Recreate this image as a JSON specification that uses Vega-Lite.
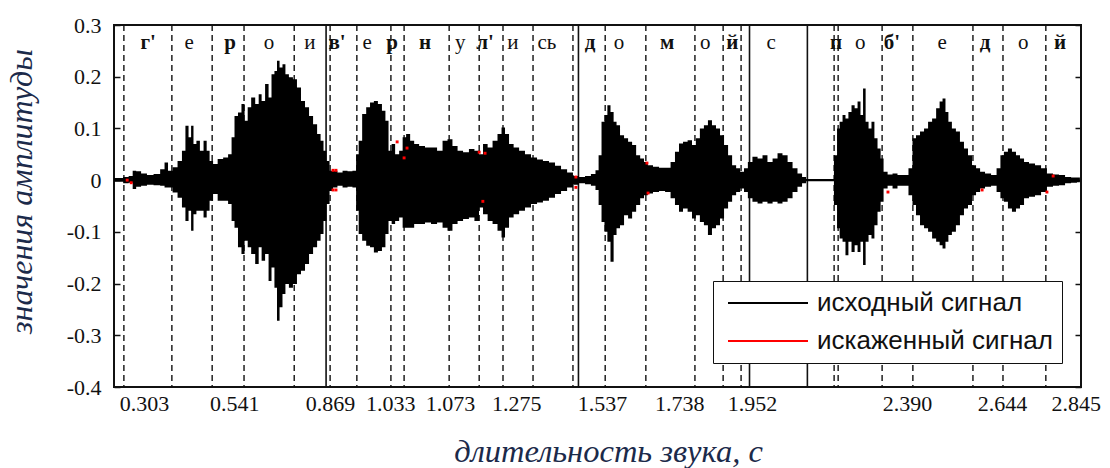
{
  "$schema": "https://vega.github.io/schema/vega-lite/v6.json",
  "autosize": {"type": "none"},
  "padding": {"left": 114, "top": 25, "right": 29, "bottom": 81},
  "width": 967,
  "height": 362,
  "background": "white",
  "config": {
    "view": {"stroke": "#111", "strokeWidth": 2},
    "axis": {"grid": false}
  },
  "datasets": {
    "wave": [
      {"t":0.221,"hi":0.004,"lo":-0.003},{"t":0.238,"hi":0.004,"lo":-0.003},{"t":0.254,"hi":0.006,"lo":-0.006},{"t":0.268,"hi":0.008,"lo":-0.005},{"t":0.276,"hi":0.018,"lo":-0.017},{"t":0.287,"hi":0.017,"lo":-0.013},{"t":0.303,"hi":0.013,"lo":-0.011},{"t":0.319,"hi":0.010,"lo":-0.009},{"t":0.339,"hi":0.012,"lo":-0.010},{"t":0.355,"hi":0.021,"lo":-0.011},{"t":0.363,"hi":0.034,"lo":-0.014},{"t":0.374,"hi":0.018,"lo":-0.014},{"t":0.388,"hi":0.025,"lo":-0.024},{"t":0.401,"hi":0.037,"lo":-0.034},{"t":0.412,"hi":0.057,"lo":-0.053},{"t":0.420,"hi":0.105,"lo":-0.079},{"t":0.429,"hi":0.083,"lo":-0.059},{"t":0.434,"hi":0.105,"lo":-0.098},{"t":0.442,"hi":0.070,"lo":-0.066},{"t":0.450,"hi":0.076,"lo":-0.059},{"t":0.461,"hi":0.057,"lo":-0.059},{"t":0.470,"hi":0.076,"lo":-0.072},{"t":0.478,"hi":0.057,"lo":-0.059},{"t":0.486,"hi":0.037,"lo":-0.040},{"t":0.497,"hi":0.031,"lo":-0.027},{"t":0.511,"hi":0.041,"lo":-0.040},{"t":0.527,"hi":0.044,"lo":-0.040},{"t":0.538,"hi":0.050,"lo":-0.046},{"t":0.546,"hi":0.083,"lo":-0.079},{"t":0.554,"hi":0.124,"lo":-0.092},{"t":0.565,"hi":0.131,"lo":-0.130},{"t":0.573,"hi":0.147,"lo":-0.143},{"t":0.582,"hi":0.115,"lo":-0.117},{"t":0.590,"hi":0.141,"lo":-0.130},{"t":0.601,"hi":0.160,"lo":-0.143},{"t":0.612,"hi":0.147,"lo":-0.162},{"t":0.620,"hi":0.166,"lo":-0.130},{"t":0.628,"hi":0.153,"lo":-0.156},{"t":0.639,"hi":0.186,"lo":-0.143},{"t":0.647,"hi":0.160,"lo":-0.195},{"t":0.655,"hi":0.205,"lo":-0.169},{"t":0.663,"hi":0.211,"lo":-0.208},{"t":0.669,"hi":0.231,"lo":-0.272},{"t":0.677,"hi":0.218,"lo":-0.246},{"t":0.685,"hi":0.224,"lo":-0.220},{"t":0.693,"hi":0.205,"lo":-0.201},{"t":0.704,"hi":0.199,"lo":-0.208},{"t":0.715,"hi":0.195,"lo":-0.201},{"t":0.726,"hi":0.179,"lo":-0.182},{"t":0.737,"hi":0.153,"lo":-0.175},{"t":0.748,"hi":0.141,"lo":-0.162},{"t":0.759,"hi":0.124,"lo":-0.143},{"t":0.770,"hi":0.108,"lo":-0.130},{"t":0.781,"hi":0.089,"lo":-0.117},{"t":0.789,"hi":0.076,"lo":-0.104},{"t":0.797,"hi":0.057,"lo":-0.079},{"t":0.805,"hi":0.037,"lo":-0.046},{"t":0.814,"hi":0.018,"lo":-0.021},{"t":0.824,"hi":0.018,"lo":-0.014},{"t":0.838,"hi":0.015,"lo":-0.011},{"t":0.852,"hi":0.018,"lo":-0.014},{"t":0.865,"hi":0.017,"lo":-0.013},{"t":0.879,"hi":0.018,"lo":-0.014},{"t":0.885,"hi":0.050,"lo":-0.059},{"t":0.893,"hi":0.076,"lo":-0.104},{"t":0.904,"hi":0.128,"lo":-0.117},{"t":0.915,"hi":0.141,"lo":-0.127},{"t":0.925,"hi":0.150,"lo":-0.130},{"t":0.936,"hi":0.153,"lo":-0.140},{"t":0.947,"hi":0.147,"lo":-0.137},{"t":0.958,"hi":0.134,"lo":-0.130},{"t":0.966,"hi":0.115,"lo":-0.104},{"t":0.975,"hi":0.057,"lo":-0.079},{"t":0.983,"hi":0.070,"lo":-0.085},{"t":0.994,"hi":0.050,"lo":-0.079},{"t":1.005,"hi":0.057,"lo":-0.072},{"t":1.013,"hi":0.083,"lo":-0.092},{"t":1.024,"hi":0.089,"lo":-0.092},{"t":1.035,"hi":0.076,"lo":-0.092},{"t":1.046,"hi":0.070,"lo":-0.085},{"t":1.062,"hi":0.066,"lo":-0.085},{"t":1.078,"hi":0.063,"lo":-0.082},{"t":1.095,"hi":0.063,"lo":-0.085},{"t":1.111,"hi":0.057,"lo":-0.082},{"t":1.125,"hi":0.076,"lo":-0.092},{"t":1.138,"hi":0.079,"lo":-0.098},{"t":1.152,"hi":0.066,"lo":-0.085},{"t":1.166,"hi":0.057,"lo":-0.079},{"t":1.182,"hi":0.054,"lo":-0.075},{"t":1.198,"hi":0.060,"lo":-0.072},{"t":1.212,"hi":0.057,"lo":-0.079},{"t":1.223,"hi":0.050,"lo":-0.053},{"t":1.234,"hi":0.070,"lo":-0.066},{"t":1.248,"hi":0.063,"lo":-0.079},{"t":1.261,"hi":0.076,"lo":-0.085},{"t":1.275,"hi":0.089,"lo":-0.098},{"t":1.283,"hi":0.102,"lo":-0.111},{"t":1.294,"hi":0.089,"lo":-0.092},{"t":1.305,"hi":0.070,"lo":-0.072},{"t":1.319,"hi":0.063,"lo":-0.066},{"t":1.335,"hi":0.057,"lo":-0.059},{"t":1.351,"hi":0.050,"lo":-0.053},{"t":1.368,"hi":0.044,"lo":-0.046},{"t":1.384,"hi":0.040,"lo":-0.043},{"t":1.400,"hi":0.037,"lo":-0.040},{"t":1.417,"hi":0.034,"lo":-0.034},{"t":1.433,"hi":0.028,"lo":-0.027},{"t":1.450,"hi":0.021,"lo":-0.021},{"t":1.466,"hi":0.015,"lo":-0.014},{"t":1.482,"hi":0.008,"lo":-0.009},{"t":1.499,"hi":0.006,"lo":-0.006},{"t":1.515,"hi":0.008,"lo":-0.008},{"t":1.531,"hi":0.012,"lo":-0.011},{"t":1.540,"hi":0.019,"lo":-0.019},{"t":1.548,"hi":0.048,"lo":-0.048},{"t":1.556,"hi":0.113,"lo":-0.081},{"t":1.564,"hi":0.126,"lo":-0.100},{"t":1.572,"hi":0.145,"lo":-0.119},{"t":1.581,"hi":0.132,"lo":-0.158},{"t":1.589,"hi":0.113,"lo":-0.106},{"t":1.597,"hi":0.106,"lo":-0.093},{"t":1.608,"hi":0.087,"lo":-0.087},{"t":1.619,"hi":0.081,"lo":-0.068},{"t":1.630,"hi":0.074,"lo":-0.074},{"t":1.641,"hi":0.068,"lo":-0.061},{"t":1.652,"hi":0.048,"lo":-0.048},{"t":1.663,"hi":0.042,"lo":-0.035},{"t":1.673,"hi":0.035,"lo":-0.029},{"t":1.684,"hi":0.029,"lo":-0.026},{"t":1.701,"hi":0.026,"lo":-0.023},{"t":1.717,"hi":0.024,"lo":-0.021},{"t":1.734,"hi":0.024,"lo":-0.023},{"t":1.747,"hi":0.035,"lo":-0.035},{"t":1.758,"hi":0.055,"lo":-0.048},{"t":1.769,"hi":0.071,"lo":-0.061},{"t":1.780,"hi":0.074,"lo":-0.055},{"t":1.794,"hi":0.077,"lo":-0.061},{"t":1.804,"hi":0.068,"lo":-0.074},{"t":1.815,"hi":0.081,"lo":-0.068},{"t":1.826,"hi":0.100,"lo":-0.081},{"t":1.837,"hi":0.106,"lo":-0.087},{"t":1.848,"hi":0.116,"lo":-0.106},{"t":1.859,"hi":0.106,"lo":-0.093},{"t":1.870,"hi":0.100,"lo":-0.087},{"t":1.881,"hi":0.087,"lo":-0.074},{"t":1.892,"hi":0.068,"lo":-0.055},{"t":1.903,"hi":0.048,"lo":-0.042},{"t":1.914,"hi":0.029,"lo":-0.029},{"t":1.925,"hi":0.023,"lo":-0.023},{"t":1.936,"hi":0.016,"lo":-0.016},{"t":1.946,"hi":0.023,"lo":-0.023},{"t":1.957,"hi":0.035,"lo":-0.035},{"t":1.971,"hi":0.045,"lo":-0.042},{"t":1.985,"hi":0.042,"lo":-0.045},{"t":1.998,"hi":0.048,"lo":-0.042},{"t":2.012,"hi":0.035,"lo":-0.045},{"t":2.026,"hi":0.042,"lo":-0.042},{"t":2.039,"hi":0.052,"lo":-0.045},{"t":2.053,"hi":0.048,"lo":-0.042},{"t":2.067,"hi":0.035,"lo":-0.035},{"t":2.080,"hi":0.023,"lo":-0.023},{"t":2.094,"hi":0.013,"lo":-0.013},{"t":2.105,"hi":0.006,"lo":-0.006},{"t":2.116,"hi":0.002,"lo":-0.002},{"t":2.148,"hi":0.002,"lo":-0.002},{"t":2.181,"hi":0.002,"lo":-0.002},{"t":2.192,"hi":0.048,"lo":-0.048},{"t":2.198,"hi":0.100,"lo":-0.093},{"t":2.206,"hi":0.113,"lo":-0.113},{"t":2.214,"hi":0.126,"lo":-0.119},{"t":2.222,"hi":0.119,"lo":-0.145},{"t":2.230,"hi":0.132,"lo":-0.119},{"t":2.239,"hi":0.145,"lo":-0.139},{"t":2.247,"hi":0.139,"lo":-0.126},{"t":2.255,"hi":0.152,"lo":-0.139},{"t":2.263,"hi":0.126,"lo":-0.119},{"t":2.269,"hi":0.177,"lo":-0.164},{"t":2.277,"hi":0.113,"lo":-0.119},{"t":2.285,"hi":0.100,"lo":-0.106},{"t":2.293,"hi":0.113,"lo":-0.113},{"t":2.301,"hi":0.081,"lo":-0.087},{"t":2.310,"hi":0.061,"lo":-0.061},{"t":2.318,"hi":0.042,"lo":-0.042},{"t":2.326,"hi":0.016,"lo":-0.016},{"t":2.340,"hi":0.011,"lo":-0.011},{"t":2.353,"hi":0.013,"lo":-0.016},{"t":2.367,"hi":0.010,"lo":-0.011},{"t":2.383,"hi":0.010,"lo":-0.011},{"t":2.397,"hi":0.023,"lo":-0.029},{"t":2.405,"hi":0.081,"lo":-0.048},{"t":2.416,"hi":0.087,"lo":-0.068},{"t":2.427,"hi":0.094,"lo":-0.087},{"t":2.438,"hi":0.100,"lo":-0.093},{"t":2.449,"hi":0.113,"lo":-0.100},{"t":2.460,"hi":0.119,"lo":-0.113},{"t":2.471,"hi":0.139,"lo":-0.119},{"t":2.479,"hi":0.152,"lo":-0.126},{"t":2.487,"hi":0.158,"lo":-0.132},{"t":2.495,"hi":0.132,"lo":-0.119},{"t":2.503,"hi":0.113,"lo":-0.106},{"t":2.514,"hi":0.100,"lo":-0.100},{"t":2.525,"hi":0.094,"lo":-0.087},{"t":2.536,"hi":0.074,"lo":-0.068},{"t":2.547,"hi":0.061,"lo":-0.055},{"t":2.558,"hi":0.048,"lo":-0.048},{"t":2.569,"hi":0.029,"lo":-0.029},{"t":2.580,"hi":0.023,"lo":-0.023},{"t":2.591,"hi":0.016,"lo":-0.016},{"t":2.607,"hi":0.013,"lo":-0.013},{"t":2.624,"hi":0.010,"lo":-0.011},{"t":2.637,"hi":0.023,"lo":-0.023},{"t":2.645,"hi":0.048,"lo":-0.035},{"t":2.656,"hi":0.055,"lo":-0.042},{"t":2.667,"hi":0.061,"lo":-0.055},{"t":2.678,"hi":0.055,"lo":-0.061},{"t":2.689,"hi":0.048,"lo":-0.055},{"t":2.700,"hi":0.042,"lo":-0.048},{"t":2.711,"hi":0.035,"lo":-0.035},{"t":2.727,"hi":0.032,"lo":-0.032},{"t":2.744,"hi":0.029,"lo":-0.029},{"t":2.760,"hi":0.023,"lo":-0.023},{"t":2.776,"hi":0.013,"lo":-0.013},{"t":2.793,"hi":0.011,"lo":-0.011},{"t":2.809,"hi":0.010,"lo":-0.010},{"t":2.826,"hi":0.006,"lo":-0.006},{"t":2.842,"hi":0.005,"lo":-0.005},{"t":2.858,"hi":0.005,"lo":-0.004}
    ],
    "bounds": [
      {"t":0.248,"kind":"phone"},{"t":0.379,"kind":"phone"},{"t":0.489,"kind":"phone"},{"t":0.576,"kind":"phone"},{"t":0.713,"kind":"phone"},{"t":0.811,"kind":"phone"},{"t":0.884,"kind":"phone"},{"t":0.977,"kind":"phone"},{"t":1.013,"kind":"phone"},{"t":1.136,"kind":"phone"},{"t":1.218,"kind":"phone"},{"t":1.283,"kind":"phone"},{"t":1.365,"kind":"phone"},{"t":1.474,"kind":"phone"},{"t":1.562,"kind":"phone"},{"t":1.673,"kind":"phone"},{"t":1.807,"kind":"phone"},{"t":1.884,"kind":"phone"},{"t":1.933,"kind":"phone"},{"t":2.187,"kind":"phone"},{"t":2.198,"kind":"phone"},{"t":2.318,"kind":"phone"},{"t":2.402,"kind":"phone"},{"t":2.566,"kind":"phone"},{"t":2.648,"kind":"phone"},{"t":2.765,"kind":"phone"},
      {"t":0.800,"kind":"word"},{"t":1.489,"kind":"word"},{"t":1.956,"kind":"word"},{"t":2.114,"kind":"word"}
    ],
    "letters": [
      {"t":0.314,"s":"г'","b":1},{"t":0.426,"s":"е","b":0},{"t":0.538,"s":"р","b":1},{"t":0.644,"s":"о","b":0},{"t":0.756,"s":"и","b":0},
      {"t":0.830,"s":"в'","b":1},{"t":0.912,"s":"е","b":0},{"t":0.980,"s":"р","b":1},{"t":1.070,"s":"н","b":1},{"t":1.166,"s":"у","b":0},{"t":1.234,"s":"л'","b":1},{"t":1.310,"s":"и","b":0},{"t":1.403,"s":"сь","b":0},
      {"t":1.521,"s":"д","b":1},{"t":1.600,"s":"о","b":0},{"t":1.731,"s":"м","b":1},{"t":1.835,"s":"о","b":0},{"t":1.909,"s":"й","b":1},
      {"t":2.015,"s":"с","b":0},
      {"t":2.192,"s":"п","b":1},{"t":2.258,"s":"о","b":0},{"t":2.345,"s":"б'","b":1},{"t":2.482,"s":"е","b":0},{"t":2.599,"s":"д","b":1},{"t":2.703,"s":"о","b":0},{"t":2.804,"s":"й","b":1}
    ],
    "red": [
      {"t":0.257,"v":0.0},{"t":0.268,"v":-0.005},{"t":0.819,"v":0.019},{"t":0.827,"v":0.019},{"t":0.819,"v":-0.019},{"t":0.827,"v":-0.019},
      {"t":0.994,"v":0.074},{"t":1.021,"v":0.062},{"t":1.013,"v":0.043},{"t":1.218,"v":0.054},{"t":1.234,"v":0.052},{"t":1.228,"v":-0.041},
      {"t":1.482,"v":0.006},{"t":1.482,"v":-0.014},{"t":1.676,"v":0.033},{"t":1.679,"v":-0.025},{"t":2.334,"v":-0.023},{"t":2.591,"v":-0.019},{"t":2.785,"v":0.008},{"t":2.768,"v":-0.023}
    ]
  },
  "encoding": {
    "x": {
      "field": "t", "type": "quantitative",
      "scale": {"domain": [0.221, 2.861], "nice": false, "zero": false},
      "axis": {
        "values": [0.303,0.549,0.811,0.975,1.138,1.319,1.553,1.764,1.963,2.386,2.645,2.847],
        "labelExpr": "datum.value == 0.549 ? '0.541' : datum.value == 0.811 ? '0.869' : datum.value == 0.975 ? '1.033' : datum.value == 1.138 ? '1.073' : datum.value == 1.319 ? '1.275' : datum.value == 1.553 ? '1.537' : datum.value == 1.764 ? '1.738' : datum.value == 1.963 ? '1.952' : datum.value == 2.386 ? '2.390' : datum.value == 2.645 ? '2.644' : datum.value == 2.847 ? '2.845' : '0.303'",
        "ticks": false, "domain": false, "grid": false,
        "labelFont": "Liberation Serif", "labelFontSize": 22, "labelColor": "#111",
        "labelPadding": 6, "labelFlush": false, "labelOverlap": false,
        "title": "длительность звука, с",
        "titleFont": "Liberation Serif", "titleFontStyle": "italic", "titleFontWeight": "normal",
        "titleFontSize": 32.5, "titleColor": "#1b2a4a",
        "titleX": 494, "titleY": 74, "titleBaseline": "alphabetic"
      }
    }
  },
  "layer": [
    {
      "data": {"name": "bounds"},
      "transform": [{"filter": "datum.kind == 'phone'"}],
      "mark": {"type": "rule", "color": "#111", "strokeWidth": 1.4, "strokeDash": [6, 4]},
      "encoding": {}
    },
    {
      "data": {"name": "bounds"},
      "transform": [{"filter": "datum.kind == 'word'"}],
      "mark": {"type": "rule", "color": "#111", "strokeWidth": 1.6},
      "encoding": {}
    },
    {
      "data": {"name": "wave"},
      "mark": {"type": "area", "color": "#000000", "opacity": 1, "interpolate": "step"},
      "encoding": {
        "y": {
          "field": "hi", "type": "quantitative",
          "scale": {"domain": [-0.4, 0.3], "nice": false, "zero": false},
          "axis": {
            "orient": "left",
            "values": [-0.4,-0.3,-0.2,-0.1,0,0.1,0.2,0.3],
            "labelExpr": "datum.value == 0 ? '0' : (datum.value < 0 ? '-' + format(-datum.value, '.1f') : format(datum.value, '.1f'))",
            "domain": false, "grid": false,
            "tickSize": -6, "tickColor": "#111", "tickWidth": 1.5,
            "labelFont": "Liberation Serif", "labelFontSize": 22, "labelColor": "#111",
            "labelPadding": 19, "labelBaseline": "middle",
            "title": "значения амплитуды",
            "titleFont": "Liberation Serif", "titleFontStyle": "italic", "titleFontWeight": "normal",
            "titleFontSize": 32, "titleColor": "#1b2a4a",
            "titleAngle": 270, "titleX": -83, "titleY": 166, "titleBaseline": "alphabetic"
          }
        },
        "y2": {"field": "lo"}
      }
    },
    {
      "data": {"name": "red"},
      "mark": {"type": "point", "shape": "square", "filled": false, "size": 2, "strokeWidth": 1.5, "opacity": 1},
      "encoding": {
        "y": {
          "field": "v", "type": "quantitative",
          "scale": {"domain": [-0.4, 0.3], "nice": false, "zero": false},
          "axis": {
            "orient": "right", "values": [-0.4,-0.3,-0.2,-0.1,0,0.1,0.2,0.3],
            "labels": false, "domain": false, "grid": false, "title": null,
            "tickSize": -6, "tickColor": "#111", "tickWidth": 1.5
          }
        },
        "color": {
          "datum": "искаженный сигнал", "type": "nominal",
          "scale": {"domain": ["исходный сигнал", "искаженный сигнал"], "range": ["#000000", "#ff0000"]},
          "legend": {
            "orient": "none", "legendX": 599, "legendY": 256,
            "title": null,
            "symbolType": "M-1,0H9", "symbolSize": 256, "symbolStrokeWidth": 2,
            "symbolOffset": 1,
            "labelFont": "Liberation Sans", "labelFontSize": 26, "labelColor": "#111",
            "labelOffset": 68, "labelLimit": 400, "rowPadding": 12, "padding": 9,
            "strokeColor": "#111", "fillColor": "#ffffff",
            "encode": {"symbols": {"update": {"size": {"value": 256}, "strokeWidth": {"value": 2}, "stroke": {"scale": "color", "field": "value"}}}}
          }
        }
      }
    },
    {
      "data": {"name": "letters"},
      "transform": [{"filter": "datum.b == 1"}],
      "mark": {"type": "text", "font": "Liberation Serif", "fontSize": 21, "fontWeight": "bold", "color": "#111", "baseline": "middle", "align": "center"},
      "encoding": {
        "y": {"datum": 0.265, "type": "quantitative", "axis": null},
        "text": {"field": "s"}
      }
    },
    {
      "data": {"name": "letters"},
      "transform": [{"filter": "datum.b == 0"}],
      "mark": {"type": "text", "font": "Liberation Serif", "fontSize": 21, "fontWeight": "normal", "color": "#111", "baseline": "middle", "align": "center"},
      "encoding": {
        "y": {"datum": 0.265, "type": "quantitative", "axis": null},
        "text": {"field": "s"}
      }
    }
  ],
  "resolve": {"axis": {"y": "independent"}}
}
